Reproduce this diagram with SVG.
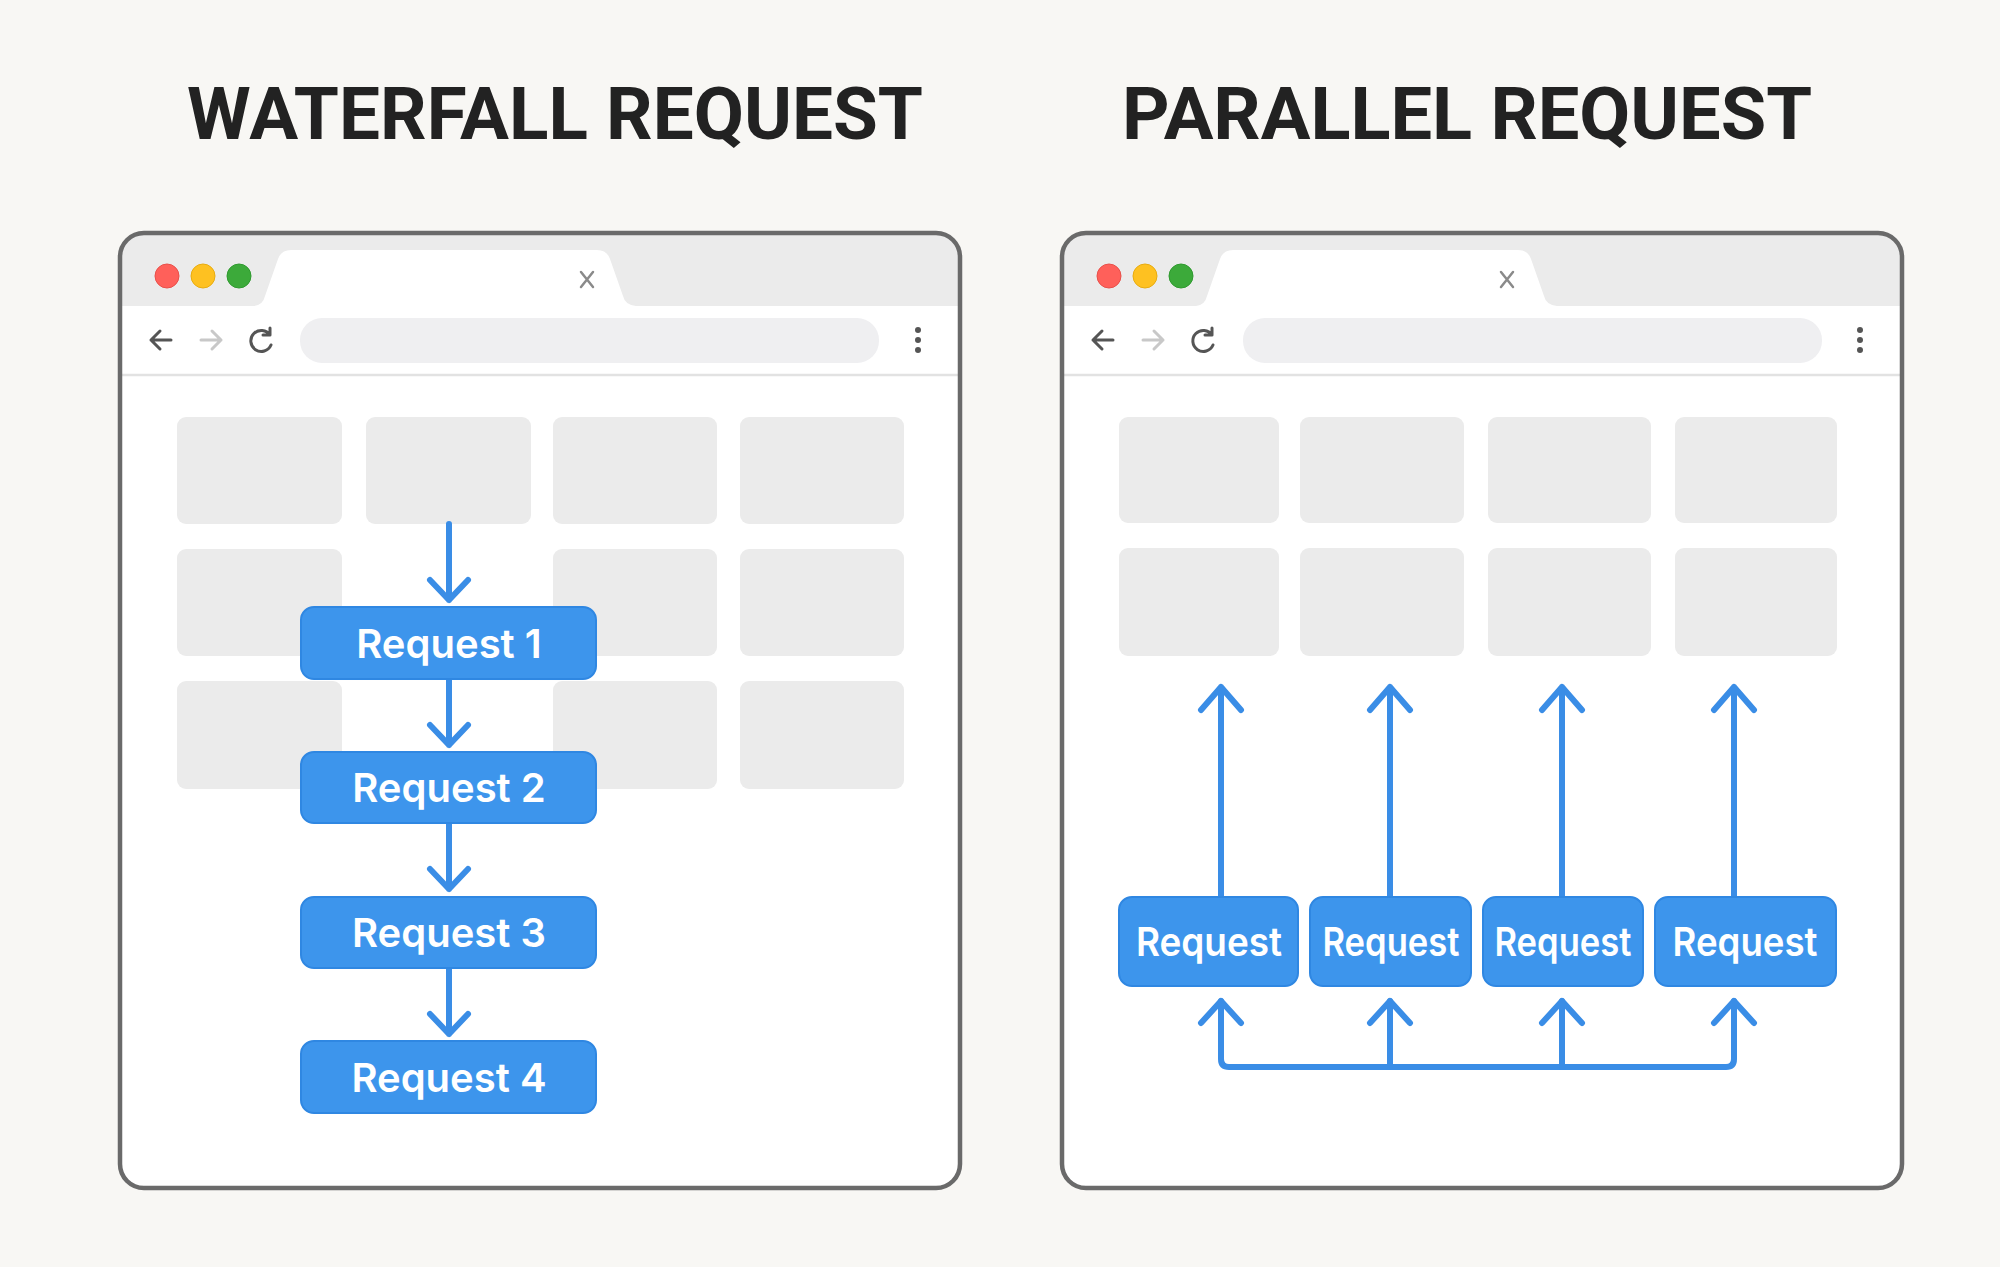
<svg xmlns="http://www.w3.org/2000/svg" width="2000" height="1267" viewBox="0 0 2000 1267">
<style>
.title{font-family:Roboto,"Liberation Sans",sans-serif;font-weight:700;font-size:72px;fill:#222;}
.win{fill:#fff;}
.frame{fill:none;stroke:#6a6a6a;stroke-width:4.5;}
.bar{fill:#ebebeb;}
.tab{fill:#fff;}
.sep{stroke:#e2e2e2;stroke-width:2.5;}
.addr{fill:#efeff1;}
.xic{stroke:#8a8a8a;stroke-width:2.5;fill:none;stroke-linecap:round;}
.nav{stroke:#555;stroke-width:3;fill:none;stroke-linecap:round;stroke-linejoin:round;}
.navl{stroke:#c8c8c8;stroke-width:3;fill:none;stroke-linecap:round;stroke-linejoin:round;}
.dot{fill:#555;}
.blk{fill:#ebebeb;}
.req{fill:#3d95ec;stroke:#2f87e2;stroke-width:2;}
.rt{font-family:Inter,"Noto Sans","Liberation Sans",sans-serif;font-weight:600;font-size:40px;fill:#fff;text-anchor:middle;}
.conn{stroke:#3a8de6;stroke-width:6;fill:none;stroke-linecap:round;stroke-linejoin:round;}
</style>
<rect width="2000" height="1267" fill="#f8f7f4"/>

<text class="title" x="555" y="139" text-anchor="middle" textLength="736" lengthAdjust="spacingAndGlyphs">WATERFALL REQUEST</text>
<text class="title" x="1467" y="139" text-anchor="middle" textLength="690" lengthAdjust="spacingAndGlyphs">PARALLEL REQUEST</text>

<!-- Left browser -->
<g id="browser-waterfall">
<rect class="win" x="120" y="233" width="840" height="955" rx="24"/>
<path class="bar" d="M120 306 V257 Q120 233 144 233 H936 Q960 233 960 257 V306 Z"/>
<path class="tab" d="M254 306 Q263 305 265 296 L278 259 Q281 250 291 250 H597 Q607 250 610 259 L623 296 Q625 305 636 306 Z"/>
<line class="sep" x1="120" y1="375" x2="960" y2="375"/>
<circle cx="167" cy="276" r="12" fill="#ff605a" stroke="#e8504a" stroke-width="1"/>
<circle cx="203" cy="276" r="12" fill="#fec121" stroke="#e8ac10" stroke-width="1"/>
<circle cx="239" cy="276" r="12" fill="#3caa3a" stroke="#2f9a2f" stroke-width="1"/>
<path class="xic" d="M581 272 L593 287 M593 272 L581 287"/>
<path class="nav" d="M151 340 H171 M160 331 L151 340 L160 349"/>
<path class="navl" d="M201 340 H221 M212 331 L221 340 L212 349"/>
<path class="nav" d="M270 335 A10.5 10.5 0 1 0 271 345 M270 328 V335 H263"/>
<rect class="addr" x="300" y="318" width="579" height="45" rx="22"/>
<circle class="dot" cx="918" cy="330" r="3"/>
<circle class="dot" cx="918" cy="340" r="3"/>
<circle class="dot" cx="918" cy="350" r="3"/>
<rect class="blk" x="177" y="417" width="165" height="107" rx="9"/>
<rect class="blk" x="366" y="417" width="165" height="107" rx="9"/>
<rect class="blk" x="553" y="417" width="164" height="107" rx="9"/>
<rect class="blk" x="740" y="417" width="164" height="107" rx="9"/>
<rect class="blk" x="177" y="549" width="165" height="107" rx="9"/>
<rect class="blk" x="553" y="549" width="164" height="107" rx="9"/>
<rect class="blk" x="740" y="549" width="164" height="107" rx="9"/>
<rect class="blk" x="177" y="681" width="165" height="108" rx="9"/>
<rect class="blk" x="553" y="681" width="164" height="108" rx="9"/>
<rect class="blk" x="740" y="681" width="164" height="108" rx="9"/>
<rect class="frame" x="120" y="233" width="840" height="955" rx="24"/>
</g>

<!-- Right browser -->
<g id="browser-parallel">
<rect class="win" x="1062" y="233" width="840" height="955" rx="24"/>
<path class="bar" d="M1062 306 V257 Q1062 233 1086 233 H1878 Q1902 233 1902 257 V306 Z"/>
<path class="tab" d="M1196 306 Q1205 305 1207 296 L1220 259 Q1223 250 1233 250 H1518 Q1528 250 1531 259 L1544 296 Q1546 305 1557 306 Z"/>
<line class="sep" x1="1062" y1="375" x2="1902" y2="375"/>
<circle cx="1109" cy="276" r="12" fill="#ff605a" stroke="#e8504a" stroke-width="1"/>
<circle cx="1145" cy="276" r="12" fill="#fec121" stroke="#e8ac10" stroke-width="1"/>
<circle cx="1181" cy="276" r="12" fill="#3caa3a" stroke="#2f9a2f" stroke-width="1"/>
<path class="xic" d="M1501 272 L1513 287 M1513 272 L1501 287"/>
<path class="nav" d="M1093 340 H1113 M1102 331 L1093 340 L1102 349"/>
<path class="navl" d="M1143 340 H1163 M1154 331 L1163 340 L1154 349"/>
<path class="nav" d="M1212 335 A10.5 10.5 0 1 0 1213 345 M1212 328 V335 H1205"/>
<rect class="addr" x="1243" y="318" width="579" height="45" rx="22"/>
<circle class="dot" cx="1860" cy="330" r="3"/>
<circle class="dot" cx="1860" cy="340" r="3"/>
<circle class="dot" cx="1860" cy="350" r="3"/>
<rect class="blk" x="1119" y="417" width="160" height="106" rx="9"/>
<rect class="blk" x="1300" y="417" width="164" height="106" rx="9"/>
<rect class="blk" x="1488" y="417" width="163" height="106" rx="9"/>
<rect class="blk" x="1675" y="417" width="162" height="106" rx="9"/>
<rect class="blk" x="1119" y="548" width="160" height="108" rx="9"/>
<rect class="blk" x="1300" y="548" width="164" height="108" rx="9"/>
<rect class="blk" x="1488" y="548" width="163" height="108" rx="9"/>
<rect class="blk" x="1675" y="548" width="162" height="108" rx="9"/>
<rect class="frame" x="1062" y="233" width="840" height="955" rx="24"/>
</g>

<!-- Connectors -->
<g id="connectors">
<path class="conn" d="M449 524 V600 M430 580 L449 600 L468 580"/>
<path class="conn" d="M449 679 V745 M430 725 L449 745 L468 725"/>
<path class="conn" d="M449 823 V889 M430 869 L449 889 L468 869"/>
<path class="conn" d="M449 968 V1034 M430 1014 L449 1034 L468 1014"/>

<path class="conn" d="M1221 897 V687 M1201 710 L1221 687 L1241 710"/>
<path class="conn" d="M1390 897 V687 M1370 710 L1390 687 L1410 710"/>
<path class="conn" d="M1562 897 V687 M1542 710 L1562 687 L1582 710"/>
<path class="conn" d="M1734 897 V687 M1714 710 L1734 687 L1754 710"/>

<path class="conn" d="M1221 1001 V1059 Q1221 1067 1229 1067 H1726 Q1734 1067 1734 1059 V1001"/>
<path class="conn" d="M1390 1067 V1001 M1562 1067 V1001"/>
<path class="conn" d="M1201 1023 L1221 1001 L1241 1023"/>
<path class="conn" d="M1370 1023 L1390 1001 L1410 1023"/>
<path class="conn" d="M1542 1023 L1562 1001 L1582 1023"/>
<path class="conn" d="M1714 1023 L1734 1001 L1754 1023"/>
</g>

<!-- Waterfall request nodes -->
<g id="req1"><rect class="req" x="301" y="607" width="295" height="72" rx="13"/><text class="rt" x="449" y="658">Request 1</text></g>
<g id="req2"><rect class="req" x="301" y="752" width="295" height="71" rx="13"/><text class="rt" x="449" y="802">Request 2</text></g>
<g id="req3"><rect class="req" x="301" y="897" width="295" height="71" rx="13"/><text class="rt" x="449" y="947">Request 3</text></g>
<g id="req4"><rect class="req" x="301" y="1041" width="295" height="72" rx="13"/><text class="rt" x="449" y="1092">Request 4</text></g>

<!-- Parallel request nodes -->
<g id="preq1"><rect class="req" x="1119" y="897" width="179" height="89" rx="13"/><text class="rt" x="1209" y="956" textLength="146" lengthAdjust="spacingAndGlyphs">Request</text></g>
<g id="preq2"><rect class="req" x="1310" y="897" width="161" height="89" rx="13"/><text class="rt" x="1391" y="956" textLength="137" lengthAdjust="spacingAndGlyphs">Request</text></g>
<g id="preq3"><rect class="req" x="1483" y="897" width="160" height="89" rx="13"/><text class="rt" x="1563" y="956" textLength="137" lengthAdjust="spacingAndGlyphs">Request</text></g>
<g id="preq4"><rect class="req" x="1655" y="897" width="181" height="89" rx="13"/><text class="rt" x="1745" y="956" textLength="145" lengthAdjust="spacingAndGlyphs">Request</text></g>
</svg>
